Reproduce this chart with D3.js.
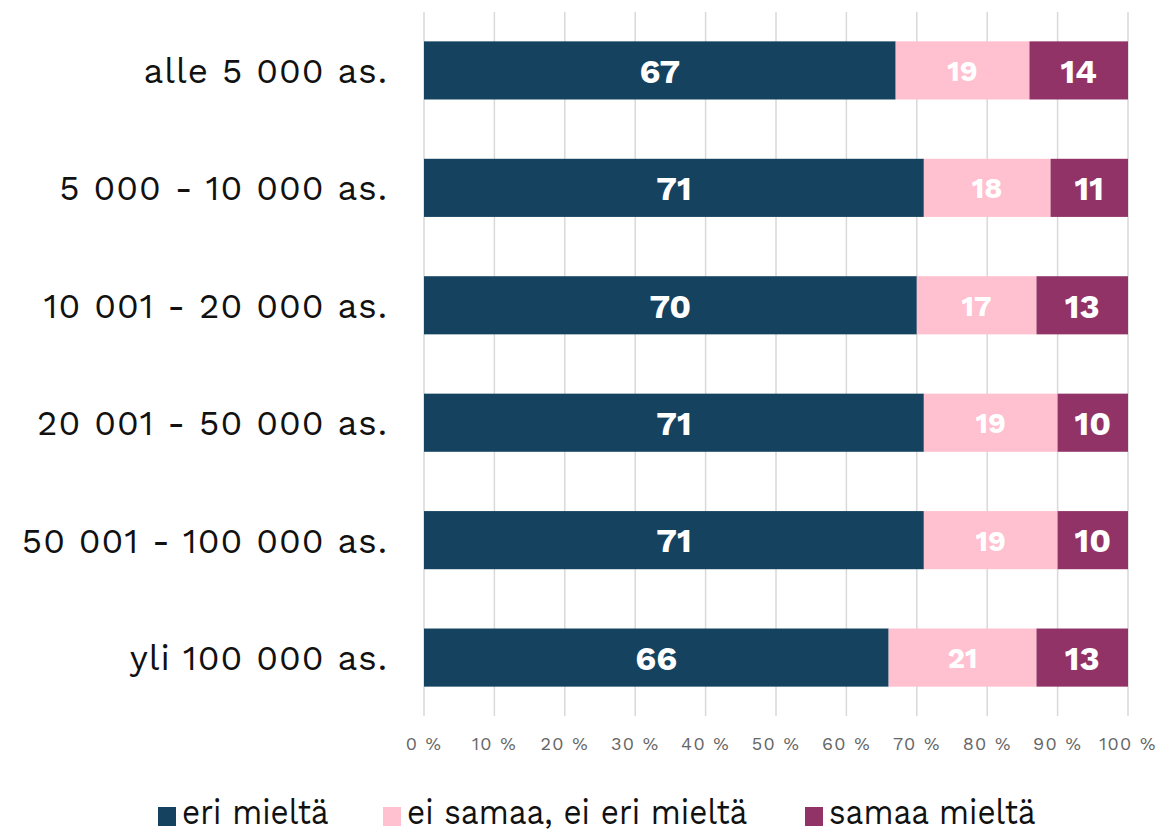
<!DOCTYPE html>
<html>
<head>
<meta charset="utf-8">
<script src="https://cdn.jsdelivr.net/npm/d3@7"></script>
<style>
  body { margin: 0; background: #fff; }
  text { font-family: "Work Sans", Inter, "Open Sans", sans-serif; }
</style>
</head>
<body>
<svg class="chart"></svg>
<script>
// stacked 100% bars, one per municipality size

var categories = ["alle 5 000 as.", "5 000 - 10 000 as.", "10 001 - 20 000 as.",
  "20 001 - 50 000 as.", "50 001 - 100 000 as.", "yli 100 000 as."];
var seriesNames = ["eri mieltä", "ei samaa, ei eri mieltä", "samaa mieltä"];
var eriMielta = [67, 71, 70, 71, 71, 66];
var eiSamaa = [19, 18, 17, 19, 19, 21];
var samaaMielta = [14, 11, 13, 10, 10, 13];
var ticks = [0, 10, 20, 30, 40, 50, 60, 70, 80, 90, 100];

var ui = {
  width: 1161,
  height: 831,
  colors: ["#14425f", "#ffc0cf", "#913366"],
  grid: "#d9d9d9"
}

var chart = d3.select(".chart")
  .attr("width", ui.width)
  .attr("height", ui.height);

var x = d3.scaleLinear().domain([0, 100]).range([424, 1128]);
var y = d3.scaleBand().domain(categories).range([12, 716]).paddingInner(0.505).paddingOuter(0.25);

var rows = categories.map(function(c, i) {
  return { cat: c, v: [eriMielta[i], eiSamaa[i], samaaMielta[i]] };
});

// gridlines
chart.append("g").selectAll("line")
  .data(ticks)
  .enter().append("line")
  .attr("x1", function(d) { return x(d) })
  .attr("x2", function(d) { return x(d) })
  .attr("y1", 12)
  .attr("y2", 716)
  .style("stroke", ui.grid)
  .style("stroke-width", 1.5);

// tick labels
chart.append("g").selectAll("text")
  .data(ticks)
  .enter().append("text")
  .attr("x", function(d) { return x(d) })
  .attr("y", 750)
  .attr("text-anchor", "middle")
  .style("font-size", "18px")
  .style("letter-spacing", "1.3px")
  .style("fill", "#666")
  .text(function(d) { return d + " %" });

// category labels
chart.append("g").selectAll("text")
  .data(categories)
  .enter().append("text")
  .attr("x", 388)
  .attr("y", function(d) { return y(d) + y.bandwidth() / 2 })
  .attr("dy", "0.36em")
  .attr("text-anchor", "end")
  .style("font-size", "35px")
  .style("letter-spacing", "1px")
  .style("fill", "#111")
  .text(function(d) { return d });

var segs = [];
rows.forEach(function(r) {
  var acc = 0;
  r.v.forEach(function(v, k) {
    segs.push({ cat: r.cat, k: k, x0: acc, x1: acc + v, v: v });
    acc += v;
  });
});

var bar = chart.append("g").selectAll("g")
  .data(segs)
  .enter().append("g");

bar.append("rect")
  .attr("x", function(d) { return x(d.x0) })
  .attr("y", function(d) { return y(d.cat) })
  .attr("width", function(d) { return x(d.x1) - x(d.x0) })
  .attr("height", y.bandwidth())
  .style("fill", function(d) { return ui.colors[d.k] });

bar.append("text")
  .attr("x", function(d) { return (x(d.x0) + x(d.x1)) / 2 })
  .attr("y", function(d) { return y(d.cat) + y.bandwidth() / 2 })
  .attr("dy", "0.36em")
  .attr("text-anchor", "middle")
  .style("font-weight", "bold")
  .style("font-size", function(d) { return d.k == 1 ? "29px" : "34px" })
  .style("fill", "#fff")
  .text(function(d) { return d.v });

// legend
var legendX = [158, 383, 805];
var legend = chart.append("g").selectAll("g")
  .data(seriesNames)
  .enter().append("g")
  .attr("transform", function(d, i) { return "translate(" + legendX[i] + ",807)" });

legend.append("rect")
  .attr("width", 18)
  .attr("height", 19)
  .style("fill", function(d, i) { return ui.colors[i] });

legend.append("text")
  .attr("transform", "translate(24,17) scale(0.9,1)")
  .style("font-size", "35px")
  .style("fill", "#111")
  .text(function(d) { return d });
</script>
</body>
</html>
